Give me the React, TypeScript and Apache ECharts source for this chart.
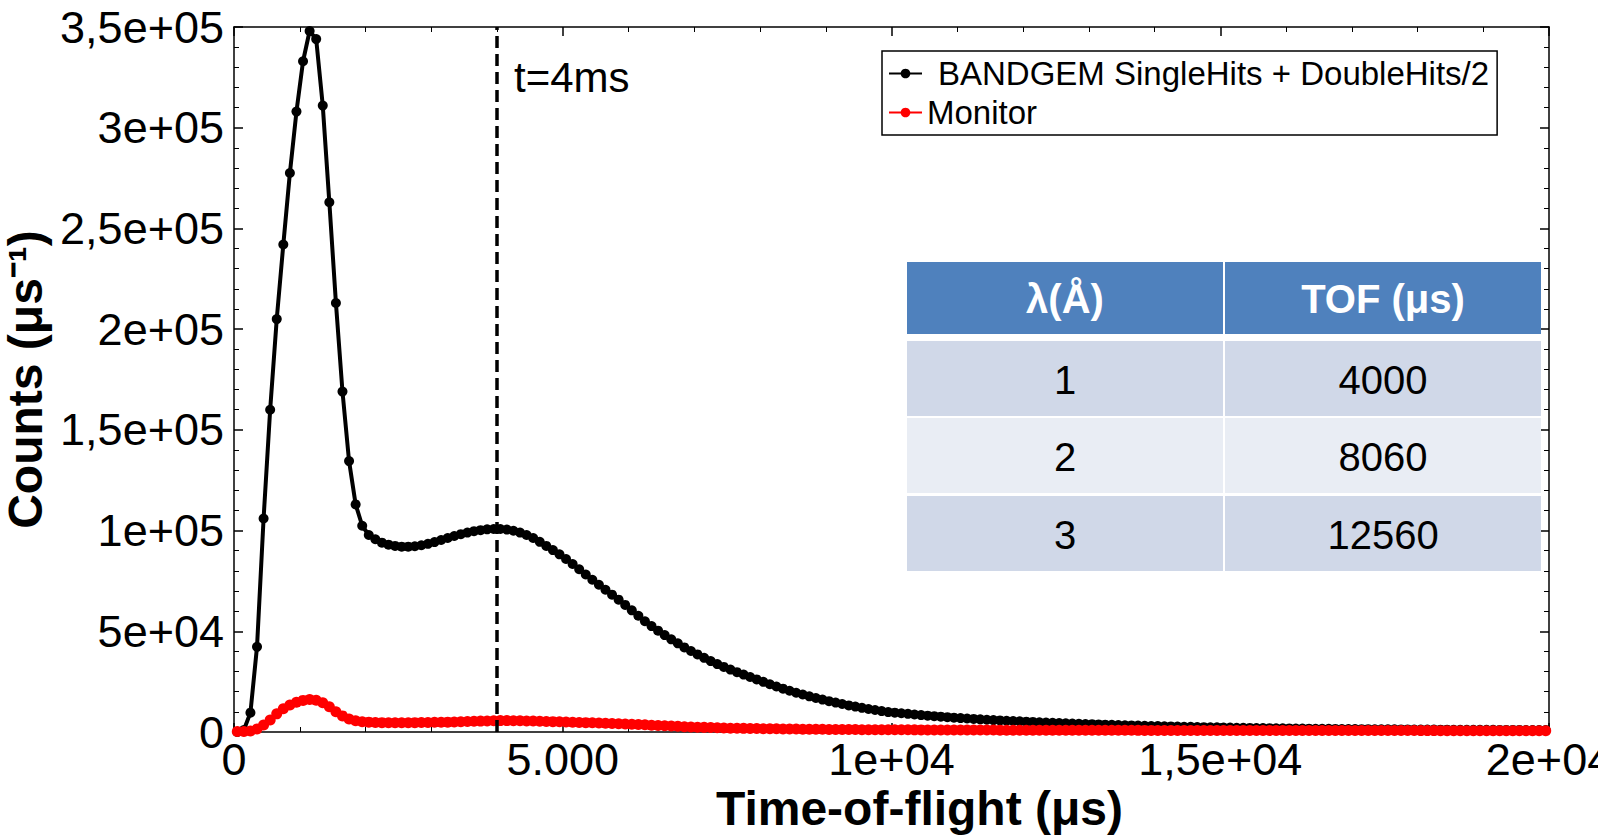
import React, { useEffect, useRef } from "react";
import * as echarts from "echarts";

// Histogram bins of 100 µs; bin i covers [i*100, (i+1)*100)
const BIN_WIDTH = 100;

const bandgemName = "BANDGEM SingleHits + DoubleHits/2";
const monitorName = "Monitor";

const bandgemCounts: number[] = [
  0, 1000, 9600, 42300, 106000, 160000, 205000, 242000, 277500, 308000,
  333000, 348000, 344000, 311000, 263000, 213000, 169000, 134500, 113000, 102400,
  97800, 95700, 94000, 93000, 92400, 92000, 92000, 92200, 92700, 93400,
  94300, 95300, 96300, 97300, 98200, 99000, 99700, 100200, 100600, 100800,
  100800, 100500, 99900, 99000, 97800, 96300, 94400, 92400, 90300, 88200,
  85900, 83400, 80800, 78200, 75600, 73100, 70600, 68200, 65700, 63100,
  60400, 57700, 55000, 52600, 50300, 48100, 46000, 44000, 42000, 40200,
  38500, 36800, 35200, 33700, 32300, 31000, 29700, 28500, 27300, 26100,
  24900, 23700, 22600, 21500, 20500, 19500, 18600, 17700, 16900, 16100,
  15300, 14600, 13900, 13200, 12600, 12000, 11400, 10900, 10400, 9900,
  9600, 9300, 9000, 8700, 8400, 8100, 7850, 7600, 7350, 7100,
  6900, 6700, 6500, 6300, 6100, 5900, 5750, 5600, 5450, 5300,
  5150, 5000, 4850, 4700, 4580, 4460, 4340, 4220, 4100, 3990,
  3880, 3770, 3660, 3560, 3460, 3360, 3270, 3180, 3090, 3000,
  2920, 2840, 2760, 2690, 2620, 2550, 2480, 2420, 2360, 2300,
  2240, 2180, 2130, 2080, 2030, 1980, 1930, 1890, 1850, 1810,
  1770, 1730, 1690, 1650, 1620, 1590, 1560, 1530, 1500, 1470,
  1440, 1410, 1390, 1370, 1350, 1330, 1310, 1290, 1270, 1250,
  1230, 1210, 1190, 1170, 1150, 1130, 1110, 1100, 1090, 1080,
  1070, 1060, 1050, 1040, 1030, 1020, 1010, 1000, 990, 980,
];

const monitorCounts: number[] = [
  300, 300, 500, 1500, 3500, 6000, 9000, 11500, 13400, 14800,
  15700, 16100, 15800, 14500, 12500, 10000, 8000, 6500, 5600, 5100,
  4900, 4750, 4650, 4600, 4600, 4600, 4600, 4650, 4700, 4750,
  4800, 4850, 4900, 5000, 5100, 5200, 5300, 5400, 5500, 5600,
  5650, 5650, 5600, 5550, 5500, 5450, 5350, 5250, 5150, 5050,
  4950, 4850, 4750, 4650, 4550, 4450, 4350, 4250, 4100, 4000,
  3850, 3700, 3550, 3400, 3250, 3100, 2950, 2800, 2650, 2500,
  2400, 2300, 2200, 2100, 2000, 1900, 1850, 1800, 1750, 1700,
  1650, 1600, 1560, 1520, 1480, 1440, 1400, 1370, 1340, 1310,
  1280, 1250, 1230, 1210, 1190, 1170, 1150, 1130, 1110, 1100,
  1090, 1080, 1070, 1060, 1050, 1040, 1030, 1020, 1010, 1000,
  990, 980, 970, 960, 950, 940, 930, 920, 910, 900,
  895, 890, 885, 880, 875, 870, 865, 860, 855, 850,
  845, 840, 835, 830, 825, 820, 815, 810, 805, 800,
  795, 790, 785, 780, 775, 770, 765, 760, 755, 750,
  748, 746, 744, 742, 740, 738, 736, 734, 732, 730,
  728, 726, 724, 722, 720, 718, 716, 714, 712, 710,
  708, 706, 704, 702, 700, 698, 696, 694, 692, 690,
  688, 686, 684, 682, 680, 678, 676, 674, 672, 670,
  668, 666, 664, 662, 660, 658, 656, 654, 652, 650,
];

const xTickLabels: Record<number, string> = {
  0: "0",
  5000: "5.000",
  10000: "1e+04",
  15000: "1,5e+04",
  20000: "2e+04",
};

const yTickLabels: Record<number, string> = {
  0: "0",
  50000: "5e+04",
  100000: "1e+05",
  150000: "1,5e+05",
  200000: "2e+05",
  250000: "2,5e+05",
  300000: "3e+05",
  350000: "3,5e+05",
};

const markerTime = 4000;
const markerLabel = "t=4ms";

const tableHeader = ["λ(Å)", "TOF (μs)"];
const tableWavelength = ["1", "2", "3"];
const tableTof = ["4000", "8060", "12560"];

const FONT = "'Liberation Sans', Arial, sans-serif";

function toPoints(values: number[]): [number, number][] {
  return values.map((v, i) => [(i + 0.5) * BIN_WIDTH, v]);
}

function buildTable(): any[] {
  const colX = [907, 1225];
  const colW = 316;
  const headerY = 262;
  const headerH = 72;
  const rowY = [341, 418, 496];
  const rowH = 75;
  const rowColors = ["#D0D8E8", "#E9EDF4", "#D0D8E8"];
  const els: any[] = [];
  tableHeader.forEach((h, c) => {
    els.push({
      type: "rect",
      shape: { x: colX[c], y: headerY, width: colW, height: headerH },
      style: { fill: "#4F81BD" },
      z: 10,
    });
    els.push({
      type: "text",
      x: colX[c] + colW / 2,
      y: headerY + headerH / 2 + 1,
      style: {
        text: h,
        fill: "#fff",
        font: `bold 40px ${FONT}`,
        align: "center",
        verticalAlign: "middle",
      },
      z: 11,
    });
  });
  tableWavelength.forEach((w, r) => {
    [w, tableTof[r]].forEach((t, c) => {
      els.push({
        type: "rect",
        shape: { x: colX[c], y: rowY[r], width: colW, height: rowH },
        style: { fill: rowColors[r] },
        z: 10,
      });
      els.push({
        type: "text",
        x: colX[c] + colW / 2,
        y: rowY[r] + rowH / 2 + 1,
        style: {
          text: t,
          fill: "#000",
          font: `40px ${FONT}`,
          align: "center",
          verticalAlign: "middle",
        },
        z: 11,
      });
    });
  });
  return els;
}

export default function App() {
  const ref = useRef<HTMLDivElement>(null);

  useEffect(() => {
    document.body.style.margin = "0";
    if (!ref.current) return;
    const chart = echarts.init(ref.current, undefined, { renderer: "svg" });

    const axisLine = { show: true, onZero: false, lineStyle: { color: "#000", width: 1.5 } };
    const axisTick = { show: true, inside: true, length: 9, lineStyle: { color: "#000", width: 1.5 } };
    const minorTick = { show: true, splitNumber: 5, length: 5, lineStyle: { color: "#000", width: 1 } };

    const option: any = {
      animation: false,
      backgroundColor: "#fff",
      textStyle: { fontFamily: FONT },
      grid: {
        left: 234,
        right: 49,
        top: 27,
        bottom: 104,
        containLabel: false,
        outerBoundsMode: "none",
      },
      legend: {
        left: 882,
        top: 51,
        orient: "vertical",
        itemWidth: 33,
        itemHeight: 12,
        itemGap: 6,
        padding: [6, 8, 6, 6],
        borderColor: "#000",
        borderWidth: 1.5,
        backgroundColor: "#fff",
        formatter: (name: string) => (name === bandgemName ? `{g|${name}}` : name),
        textStyle: {
          fontSize: 33,
          color: "#000",
          fontFamily: FONT,
          rich: { g: { fontSize: 33, color: "#000", fontFamily: FONT, padding: [0, 0, 0, 11] } },
        },
        data: [bandgemName, monitorName],
        z: 12,
      },
      xAxis: [
        {
          type: "value",
          position: "bottom",
          min: 0,
          max: 20000,
          interval: 5000,
          axisLine,
          axisTick,
          minorTick,
          splitLine: { show: false },
          minorSplitLine: { show: false },
          axisLabel: {
            formatter: (v: number) => xTickLabels[v] ?? "",
            fontSize: 45,
            lineHeight: 44,
            color: "#000",
            margin: 5,
            fontFamily: FONT,
          },
          name: "Time-of-flight (μs)",
          nameLocation: "middle",
          nameMoveOverlap: false,
          nameGap: 55,
          nameTextStyle: {
            fontSize: 48,
            lineHeight: 42,
            fontWeight: "bold",
            color: "#000",
            fontFamily: FONT,
            padding: [0, 0, 0, 56],
          },
        },
        {
          type: "value",
          position: "top",
          min: 0,
          max: 20000,
          interval: 5000,
          axisLine,
          axisTick,
          minorTick,
          splitLine: { show: false },
          axisLabel: { show: false },
        },
      ],
      yAxis: [
        {
          type: "value",
          position: "left",
          min: 0,
          max: 350000,
          interval: 50000,
          axisLine,
          axisTick,
          minorTick,
          splitLine: { show: false },
          minorSplitLine: { show: false },
          axisLabel: {
            formatter: (v: number) => yTickLabels[v] ?? "",
            fontSize: 45,
            color: "#000",
            margin: 10,
            fontFamily: FONT,
          },
          name: "Counts (μs⁻¹)",
          nameLocation: "middle",
          nameGap: 175,
          nameRotate: 90,
          nameTextStyle: { fontSize: 48, fontWeight: "bold", color: "#000", fontFamily: FONT },
        },
        {
          type: "value",
          position: "right",
          min: 0,
          max: 350000,
          interval: 50000,
          axisLine,
          axisTick,
          minorTick,
          splitLine: { show: false },
          axisLabel: { show: false },
        },
      ],
      series: [
        {
          name: bandgemName,
          type: "line",
          data: toPoints(bandgemCounts),
          symbol: "circle",
          symbolSize: 10,
          showAllSymbol: true,
          color: "#000",
          lineStyle: { color: "#000", width: 4 },
          itemStyle: { color: "#000" },
          z: 3,
          markLine: {
            silent: true,
            symbol: ["none", "none"],
            label: { show: false },
            lineStyle: { color: "#000", type: [12, 6], width: 3.5 },
            data: [{ xAxis: markerTime }],
          },
        },
        {
          name: monitorName,
          type: "line",
          data: toPoints(monitorCounts),
          symbol: "circle",
          symbolSize: 11,
          showAllSymbol: true,
          color: "#f00",
          lineStyle: { color: "#f00", width: 4 },
          itemStyle: { color: "#f00" },
          z: 4,
        },
      ],
      graphic: [
        {
          type: "text",
          x: 514,
          y: 77,
          style: {
            text: markerLabel,
            fill: "#000",
            font: `42px ${FONT}`,
            align: "left",
            verticalAlign: "middle",
          },
          z: 10,
        },
        ...buildTable(),
      ],
    };

    chart.setOption(option);
    return () => chart.dispose();
  }, []);

  return <div ref={ref} style={{ width: 1598, height: 836 }} />;
}
